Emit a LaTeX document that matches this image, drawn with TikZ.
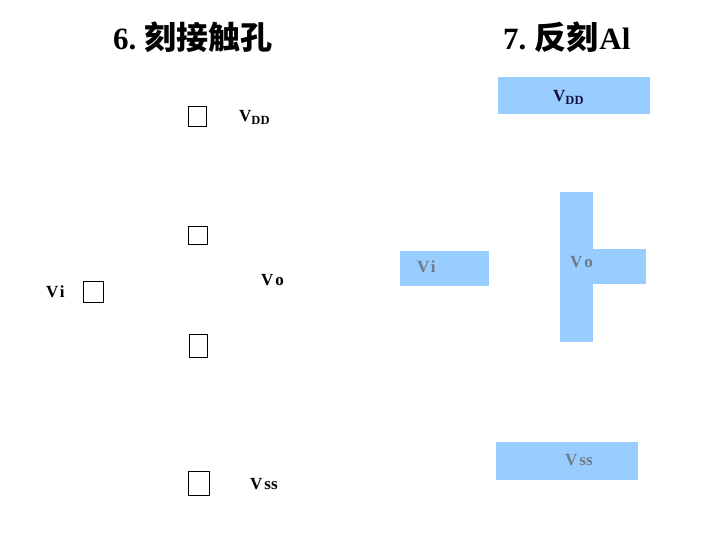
\documentclass[tikz,border=0pt]{standalone}
\usepackage{fontspec}
\setmainfont{Liberation Serif}
\newfontfamily\cjkfont{Noto Sans CJK SC}
\newcommand{\cjkbf}[1]{{\cjkfont\bfseries\fontsize{32}{32}\selectfont #1}}
\newcommand{\vsub}[1]{V\raisebox{-2.5pt}{\fontsize{12.5}{12}\selectfont #1}}
\definecolor{alblue}{HTML}{99CCFF}
\definecolor{labelgray}{HTML}{707A88}
\definecolor{labelnavy}{HTML}{101040}
\tikzset{
  x=1pt,y=-1pt,
  title/.style={anchor=base west,inner sep=0pt,font=\fontsize{31}{31}\selectfont\bfseries},
  volt/.style={anchor=base west,inner sep=0pt,font=\fontsize{17}{17}\selectfont\bfseries},
  hole/.style={draw,line width=1pt},
  metal/.style={fill=alblue}
}
\begin{document}
\begin{tikzpicture}
\useasboundingbox (0,0) rectangle (720,540);
% titles
\node (titlesix) [title] at (113,50) {6.\kern8pt\cjkbf{刻接触孔}};
\node (titleseven) [title] at (503,50) {7.\kern8pt\cjkbf{反刻}\kern1pt Al};
% contact holes
\draw [hole] (188.5,106.5) rectangle (206.5,126.5);
\draw [hole] (188.5,226.5) rectangle (207.5,244);
\draw [hole] (83.5,281.5) rectangle (103.5,302.5);
\draw [hole] (189.5,334.5) rectangle (207.5,357.5);
\draw [hole] (188.5,471.5) rectangle (209.5,495.5);
% labels of step 6
\node (vddleft) [volt] at (239,122) {\vsub{DD}};
\node (voleft) [volt] at (261,285) {V\kern2pt o};
\node (vileft) [volt] at (46,297) {V\kern1.5pt i};
\node (vssleft) [volt] at (250,489) {V\kern2pt ss};
% aluminium of step 7
\fill [metal] (498,77) rectangle (650,114);
\fill [metal] (400,251) rectangle (489,286);
\fill [metal] (560,192) rectangle (593,342);
\fill [metal] (593,249) rectangle (646,284);
\fill [metal] (496,442) rectangle (638,480);
% labels of step 7
\node (vddright) [volt,text=labelnavy] at (553,102) {\vsub{DD}};
\node (viright) [volt,text=labelgray] at (417,272) {V\kern1.5pt i};
\node (voright) [volt,text=labelgray] at (570,267) {V\kern2pt o};
\node (vssright) [volt,text=labelgray] at (565,465) {V\kern2pt ss};
\end{tikzpicture}
\end{document}
